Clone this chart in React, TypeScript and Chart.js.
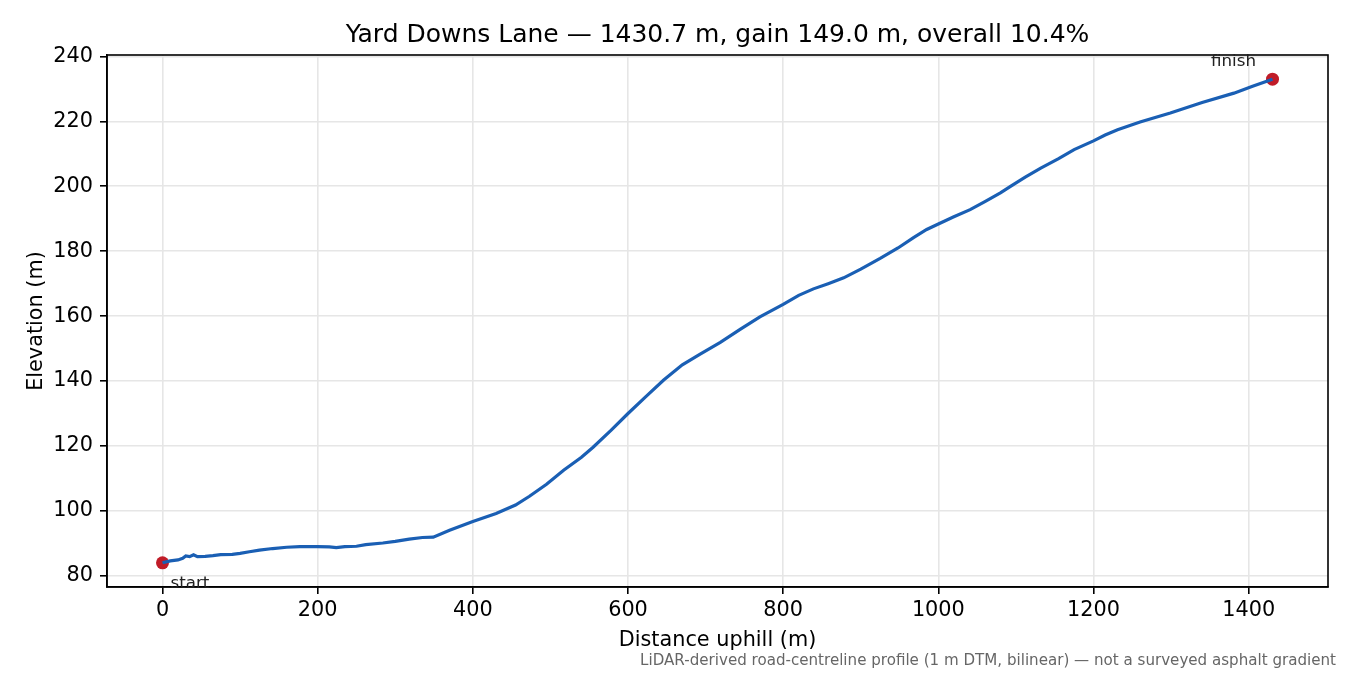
import React, { useEffect, useRef } from "react";
import { Chart, registerables } from "chart.js";

Chart.register(...registerables);

const TITLE = "Yard Downs Lane — 1430.7 m, gain 149.0 m, overall 10.4%";
const X_LABEL = "Distance uphill (m)";
const Y_LABEL = "Elevation (m)";
const FOOTNOTE = "LiDAR-derived road-centreline profile (1 m DTM, bilinear) — not a surveyed asphalt gradient";

const DIST = [
  0, 10, 20, 26, 30, 35, 40, 45, 55, 65, 75, 90, 100, 112, 125, 142, 160, 177, 200, 215,
  224, 235, 250, 262, 284, 300, 318, 335, 349, 370, 400, 430, 455, 473, 495, 517, 540, 555,
  578, 600, 623, 646, 670, 693, 719, 745, 770, 800, 820, 839, 858, 878, 900, 925, 948, 968,
  985, 1000, 1020, 1041, 1060, 1080, 1093, 1112, 1132, 1155, 1175, 1200, 1215, 1231, 1260,
  1299, 1340, 1381, 1405, 1430.7,
];
const ELEV = [
  84.0, 84.6, 84.9, 85.4, 86.1, 85.9, 86.5, 85.9, 86.0, 86.2, 86.5, 86.6, 86.9, 87.4, 87.9,
  88.4, 88.8, 89.0, 89.0, 88.9, 88.7, 89.0, 89.1, 89.6, 90.1, 90.6, 91.3, 91.8, 91.9, 94.0,
  96.7, 99.2, 101.8, 104.5, 108.2, 112.5, 116.5, 119.6, 124.8, 130.0, 135.2, 140.3, 145.0,
  148.3, 151.9, 156.0, 159.8, 163.6, 166.4, 168.4, 170.0, 171.8, 174.5, 177.8, 181.0, 184.2,
  186.7, 188.4, 190.6, 192.8, 195.3, 198.0, 200.0, 202.8, 205.6, 208.5, 211.3, 214.0, 215.8,
  217.4, 219.8, 222.6, 225.8, 228.7, 230.8, 233.0,
];
const X_TICKS = [0, 200, 400, 600, 800, 1000, 1200, 1400];
const Y_TICKS = [80, 100, 120, 140, 160, 180, 200, 220, 240];
const MARKER_LABELS = ["start", "finish"];

const FONT = "'DejaVu Sans', 'Liberation Sans', sans-serif";

export default function App() {
  const ref = useRef<HTMLCanvasElement | null>(null);

  useEffect(() => {
    const canvas = ref.current;
    if (!canvas) return;

    const line = DIST.map((d, i) => ({ x: d, y: ELEV[i] }));
    const last = DIST.length - 1;
    const markers = [
      { x: DIST[0], y: ELEV[0] },
      { x: DIST[last], y: ELEV[last] },
    ];
    const xSpan = DIST[last] - DIST[0];
    const yLo = Math.min(...ELEV);
    const yHi = Math.max(...ELEV);
    const ySpan = yHi - yLo;

    const decor = {
      id: "decor",
      afterDraw(chart: any) {
        const ctx = chart.ctx;
        const a = chart.chartArea;
        ctx.save();
        ctx.strokeStyle = "#000";
        ctx.lineWidth = 1.6;
        ctx.strokeRect(a.left, a.top, a.right - a.left, a.bottom - a.top);
        ctx.fillStyle = "#000";
        ctx.font = `25px ${FONT}`;
        ctx.textAlign = "center";
        ctx.textBaseline = "alphabetic";
        ctx.fillText(TITLE, (a.left + a.right) / 2, 42);
        ctx.font = `20.8px ${FONT}`;
        ctx.fillText(X_LABEL, (a.left + a.right) / 2, 646);
        ctx.save();
        ctx.translate(42, (a.top + a.bottom) / 2);
        ctx.rotate(-Math.PI / 2);
        ctx.fillText(Y_LABEL, 0, 0);
        ctx.restore();
        ctx.fillStyle = "#666";
        ctx.font = `15.1px ${FONT}`;
        ctx.textAlign = "right";
        ctx.fillText(FOOTNOTE, 1336, 665);
        const xs = chart.scales.x;
        const ys = chart.scales.y;
        ctx.fillStyle = "#222";
        ctx.font = `16.7px ${FONT}`;
        const sx = xs.getPixelForValue(markers[0].x);
        const sy = ys.getPixelForValue(markers[0].y);
        ctx.textAlign = "left";
        ctx.fillText(MARKER_LABELS[0], sx + 8, sy + 25);
        const fx = xs.getPixelForValue(markers[1].x);
        const fy = ys.getPixelForValue(markers[1].y);
        ctx.textAlign = "center";
        ctx.fillText(MARKER_LABELS[1], fx - 39, fy - 13);
        ctx.restore();
      },
    };

    const chart = new Chart(canvas, {
      type: "line",
      data: {
        datasets: [
          {
            data: line,
            borderColor: "#1a5fb4",
            borderWidth: 3.2,
            pointRadius: 0,
            tension: 0,
            fill: false,
          },
          {
            data: markers,
            showLine: false,
            pointRadius: 6.5,
            pointBackgroundColor: "#c01c28",
            pointBorderColor: "#c01c28",
            pointBorderWidth: 0,
          },
        ],
      },
      options: {
        animation: false,
        responsive: false,
        devicePixelRatio: 1,
        layout: { padding: { left: 0, right: 22, top: 55, bottom: 0 } },
        plugins: {
          legend: { display: false },
          tooltip: { enabled: false },
          title: { display: false },
        },
        scales: {
          x: {
            type: "linear",
            min: DIST[0] - 0.05 * xSpan,
            max: DIST[last] + 0.05 * xSpan,
            afterBuildTicks: (s: any) => {
              s.ticks = X_TICKS.map((v) => ({ value: v }));
            },
            afterFit: (s: any) => {
              s.height = 88;
            },
            grid: {
              color: "#e6e6e6",
              lineWidth: 1.6,
              tickColor: "#000",
              tickLength: 7,
              tickWidth: 1.6,
            },
            border: { display: true, color: "#000", width: 1.6 },
            ticks: {
              color: "#000",
              font: { family: FONT, size: 20.8 },
              padding: 4,
              maxRotation: 0,
              autoSkip: false,
              callback: (v: any) => String(v),
            },
          },
          y: {
            type: "linear",
            min: yLo - 0.05 * ySpan,
            max: yHi + 0.05 * ySpan,
            afterBuildTicks: (s: any) => {
              s.ticks = Y_TICKS.map((v) => ({ value: v }));
            },
            afterFit: (s: any) => {
              s.width = 107;
            },
            grid: {
              color: "#e6e6e6",
              lineWidth: 1.6,
              tickColor: "#000",
              tickLength: 7,
              tickWidth: 1.6,
            },
            border: { display: true, color: "#000", width: 1.6 },
            ticks: {
              color: "#000",
              font: { family: FONT, size: 20.8 },
              padding: 7,
              autoSkip: false,
              callback: (v: any) => String(v),
            },
          },
        },
      },
      plugins: [decor],
    });

    return () => chart.destroy();
  }, []);

  return (
    <div style={{ position: "fixed", left: 0, top: 0, width: 1350, height: 675, background: "#fff" }}>
      <canvas ref={ref} width={1350} height={675} style={{ width: 1350, height: 675, display: "block" }} />
    </div>
  );
}
